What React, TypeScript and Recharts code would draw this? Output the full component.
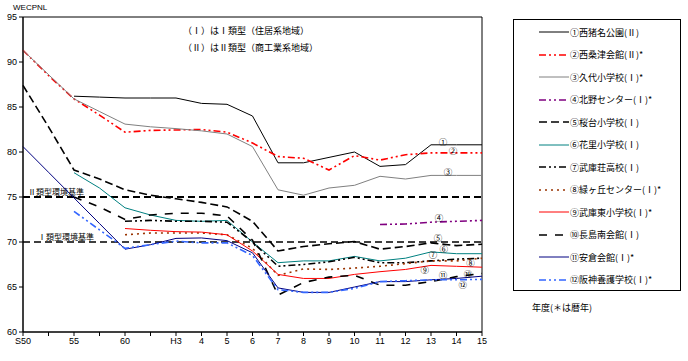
import { LineChart, Line, XAxis, YAxis, ReferenceLine, ReferenceArea, ReferenceDot } from "recharts";

// x positions: survey years (index 0..18)
const yearLabels = ["S50", "", "55", "", "60", "", "H3", "4", "5", "6", "7", "8", "9", "10", "11", "12", "13", "14", "15"];
const yTicks = [60, 65, 70, 75, 80, 85, 90, 95];

// WECPNL per station
const nishiinaKoen = [null, null, 86.2, 86.1, 86.0, 86.0, 86.0, 85.4, 85.3, 84.0, 78.8, 78.8, 79.4, 80.0, 78.4, 78.6, 80.8, 80.8, 80.8];
const nishikuwazuKaikan = [91.3, 88.5, 85.9, 84.1, 82.2, 82.4, 82.45, 82.5, 82.2, 81.0, 79.5, 79.3, 78.0, 79.6, 79.1, 79.7, 79.9, 79.9, 79.9];
const kushiroSho = [91.3, 88.6, 85.9, 84.5, 83.1, 82.8, 82.6, 82.35, 82.0, 80.6, 75.8, 75.2, 76.0, 76.3, 77.3, 77.0, 77.4, 77.4, 77.4];
const kitanoCenter = [null, null, null, null, null, null, null, null, null, null, null, null, null, null, 71.95, 72.0, 72.2, 72.3, 72.4];
const sakuradaiSho = [87.4, 82.8, 78.0, 77.0, 75.8, 75.2, 74.8, 74.4, 73.9, 72.3, 69.0, 69.5, 69.8, 70.05, 69.2, 69.5, 69.9, 69.6, 69.75];
const hanasatoSho = [null, null, 77.7, 76.0, 73.8, 73.0, 72.4, 72.3, 72.4, 70.0, 67.7, 67.9, 67.9, 68.4, 67.9, 68.2, 68.9, 68.7, 68.7];
const mukonosoKoko = [null, null, null, null, 72.3, 72.4, 72.3, 72.3, 72.2, 70.0, 67.3, 67.5, 67.8, 68.3, 67.7, 67.7, 67.9, 68.1, 68.2];
const midorigaokaCenter = [null, null, null, null, 70.8, 71.0, 71.0, 71.0, 70.8, 69.3, 66.3, 67.0, 66.95, 67.1, 67.3, 67.6, 67.9, 67.9, 68.2];
const mukohigashiSho = [null, null, null, null, 71.5, 71.3, 71.15, 71.1, 70.8, 69.0, 66.4, 65.95, 65.95, 66.4, 66.7, 66.95, 67.4, 67.3, 67.2];
const nagashimaMinamiKaikan = [null, null, 75.0, 73.9, 72.5, 73.0, 73.2, 73.2, 72.9, 70.2, 64.1, 65.5, 66.1, 66.3, 65.2, 65.2, 65.6, 66.15, 66.5];
const aguraKaikan = [80.6, 77.75, 74.9, 72.05, 69.2, 69.7, 70.4, 70.45, 70.15, 68.8, 64.9, 64.4, 64.4, 65.0, 65.6, 65.6, 65.8, 65.95, 66.2];
const hanshinYogo = [null, null, 73.4, 71.35, 69.3, 69.7, 70.1, 69.9, 69.9, 68.5, 64.7, 64.4, 64.4, 64.85, 65.6, 65.7, 65.8, 65.8, 65.85];

const series = [
  { key: "s1", name: "①西猪名公園(Ⅱ)", values: nishiinaKoen, color: "#000000", width: 1, dash: undefined },
  { key: "s2", name: "②西桑津会館(Ⅱ)*", values: nishikuwazuKaikan, color: "#ff0000", width: 1.6, dash: "7 3 2 3 2 3" },
  { key: "s3", name: "③久代小学校(Ⅰ)*", values: kushiroSho, color: "#808080", width: 1, dash: undefined },
  { key: "s4", name: "④北野センター(Ⅰ)*", values: kitanoCenter, color: "#800080", width: 1.6, dash: "7 3 2 3 2 3" },
  { key: "s5", name: "⑤桜台小学校(Ⅰ)", values: sakuradaiSho, color: "#000000", width: 1.6, dash: "8 4" },
  { key: "s6", name: "⑥花里小学校(Ⅰ)", values: hanasatoSho, color: "#008080", width: 1, dash: undefined },
  { key: "s7", name: "⑦武庫荘高校(Ⅰ)", values: mukonosoKoko, color: "#000000", width: 1.6, dash: "7 3 2 3 2 3" },
  { key: "s8", name: "⑧緑ヶ丘センター(Ⅰ)*", values: midorigaokaCenter, color: "#993300", width: 1.6, dash: "2 4" },
  { key: "s9", name: "⑨武庫東小学校(Ⅰ)*", values: mukohigashiSho, color: "#ff0000", width: 1, dash: undefined },
  { key: "s10", name: "⑩長島南会館(Ⅰ)", values: nagashimaMinamiKaikan, color: "#000000", width: 1.6, dash: "8 8" },
  { key: "s11", name: "⑪安倉会館(Ⅰ)*", values: aguraKaikan, color: "#000080", width: 1, dash: undefined },
  { key: "s12", name: "⑫阪神養護学校(Ⅰ)*", values: hanshinYogo, color: "#3366ff", width: 1.6, dash: "7 3 2 3 2 3" },
];

// circled station numbers near line ends
const markers = [
  { text: "①", x: 16.47, y: 81.15 },
  { text: "②", x: 16.86, y: 80.15 },
  { text: "③", x: 16.67, y: 77.8 },
  { text: "④", x: 16.31, y: 72.67 },
  { text: "⑤", x: 16.27, y: 70.5 },
  { text: "⑥", x: 16.5, y: 69.25 },
  { text: "⑦", x: 16.08, y: 68.56 },
  { text: "⑧", x: 17.55, y: 67.65 },
  { text: "⑨", x: 15.76, y: 66.9 },
  { text: "⑩", x: 17.45, y: 66.5 },
  { text: "⑪", x: 16.47, y: 66.33 },
  { text: "⑫", x: 17.25, y: 65.2 },
];

const data = yearLabels.map((_, i) => {
  const row: Record<string, number | null> = { i };
  series.forEach((s) => {
    row[s.key] = s.values[i];
  });
  return row;
});

const jp = '"Noto Sans CJK JP", sans-serif';

const refLabel = (text: string, dx: number) => (props: any) => {
  const { viewBox } = props;
  return (
    <text x={viewBox.x + dx} y={viewBox.y - 2} fontSize={8} fontFamily={jp} fill="#000">
      {text}
    </text>
  );
};

const markerLabel = (text: string) => (props: any) => {
  const { viewBox } = props;
  const cx = viewBox.x + (viewBox.width || 0) / 2;
  const cy = viewBox.y + (viewBox.height || 0) / 2;
  return (
    <text x={cx} y={cy + 3} fontSize={8.5} fontFamily={jp} textAnchor="middle" fill="#000">
      {text}
    </text>
  );
};

const App = () => {
  return (
    <div style={{ position: "absolute", left: 0, top: 0, width: 688, height: 361, background: "#fff" }}>
      <LineChart width={688} height={361} data={data} margin={{ top: 17, right: 206, bottom: 0, left: 0 }}>
        <XAxis
          type="number"
          dataKey="i"
          domain={[0, 18]}
          ticks={yearLabels.map((_, i) => i)}
          tickFormatter={(v: number) => yearLabels[v]}
          interval={0}
          height={29}
          tickSize={4}
          stroke="#000"
          tick={{ fill: "#000", fontSize: 9, fontFamily: "Liberation Sans" }}
        />
        <YAxis
          domain={[60, 95]}
          ticks={yTicks}
          width={23}
          tickSize={4}
          stroke="#000"
          tick={{ fill: "#000", fontSize: 9, fontFamily: "Liberation Sans" }}
        />
        <ReferenceArea x1={0} x2={18} y1={60} y2={95} fill="none" stroke="#000" strokeWidth={1} />
        <ReferenceLine y={75} stroke="#000" strokeWidth={2} strokeDasharray="7 4" label={refLabel("Ⅱ類型環境基準", 5)} />
        <ReferenceLine y={70} stroke="#000" strokeWidth={1.3} strokeDasharray="7 4" label={refLabel("Ⅰ類型環境基準", 15)} />
        {series.map((s) => (
          <Line
            key={s.key}
            type="linear"
            dataKey={s.key}
            name={s.name}
            stroke={s.color}
            strokeWidth={s.width}
            strokeDasharray={s.dash}
            dot={false}
            activeDot={false}
            isAnimationActive={false}
          />
        ))}
        {markers.map((m) => (
          <ReferenceDot key={m.text} x={m.x} y={m.y} r={0} fill="none" stroke="none" label={markerLabel(m.text)} />
        ))}
      </LineChart>

      <div style={{ position: "absolute", left: 13, top: 3, fontSize: 8, fontFamily: "Liberation Sans", color: "#000" }}>WECPNL</div>
      <div style={{ position: "absolute", left: 183, top: 26, fontSize: 9, lineHeight: 1, fontFamily: jp, whiteSpace: "nowrap" }}>
        （Ⅰ）はⅠ類型（住居系地域）
      </div>
      <div style={{ position: "absolute", left: 183, top: 43, fontSize: 9, lineHeight: 1, fontFamily: jp, whiteSpace: "nowrap" }}>
        （Ⅱ）はⅡ類型（商工業系地域）
      </div>

      <div
        style={{
          position: "absolute",
          left: 513,
          top: 19,
          width: 166,
          height: 270,
          border: "1px solid #000",
          boxSizing: "content-box",
        }}
      >
        {series.map((s, k) => (
          <div
            key={s.key}
            style={{ position: "absolute", left: 25, top: 6 + k * 22.5, height: 12, display: "flex", alignItems: "center", whiteSpace: "nowrap" }}
          >
            <svg width={30} height={6} style={{ display: "block" }}>
              <line x1={0} y1={3} x2={30} y2={3} stroke={s.color} strokeWidth={s.width} strokeDasharray={s.dash} />
            </svg>
            <span style={{ fontSize: 9, fontFamily: jp, color: "#000", marginLeft: 1 }}>{s.name}</span>
          </div>
        ))}
      </div>
      <div style={{ position: "absolute", left: 532, top: 303, fontSize: 9, lineHeight: 1, fontFamily: jp, whiteSpace: "nowrap" }}>
        年度(＊は暦年)
      </div>
    </div>
  );
};

export default App;
